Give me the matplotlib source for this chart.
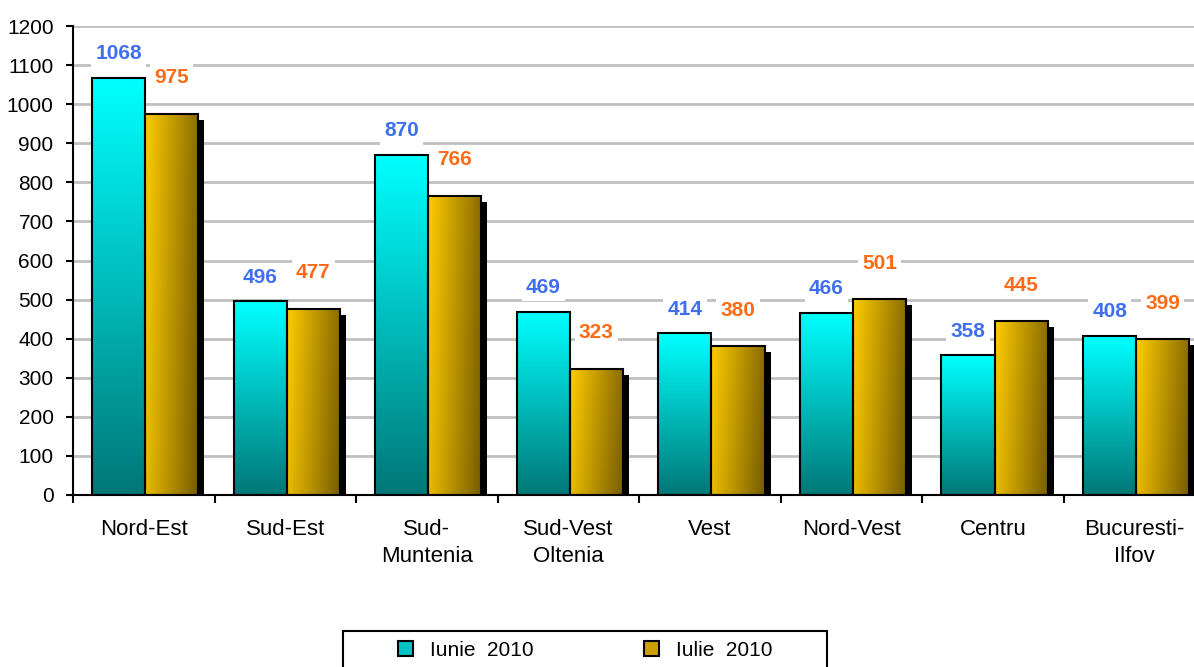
import numpy as np
import matplotlib.pyplot as plt
import matplotlib.patches as mpatches
from matplotlib.transforms import ScaledTranslation
from matplotlib.legend_handler import HandlerPatch

plt.rcParams['font.family'] = ['Liberation Sans', 'DejaVu Sans']

# data
regiuni = ['Nord-Est', 'Sud-Est', 'Sud-\nMuntenia', 'Sud-Vest\nOltenia', 'Vest',
           'Nord-Vest', 'Centru', 'Bucuresti-\nIlfov']
iunie = [1068, 496, 870, 469, 414, 466, 358, 408]
iulie = [975, 477, 766, 323, 380, 501, 445, 399]
serii = ['Iunie  2010', 'Iulie  2010']

fig = plt.figure(figsize=(11.94, 6.67), dpi=100)
ax = fig.add_axes([73 / 1194, 1 - 495 / 667, (1205.5 - 73) / 1194, (495 - 26) / 667])

x = np.arange(len(regiuni))
w = 0.375

# gradients
cyan_grad = np.zeros((64, 2, 3))
top = np.array([0, 255, 255]) / 255
bot = np.array([0, 120, 120]) / 255
for i in range(64):
    t = i / 63
    cyan_grad[i, :, :] = top * (1 - t) + bot * t

gold_grad = np.zeros((32, 64, 3))
left = np.array([255, 204, 0]) / 255
right = np.array([118, 92, 0]) / 255
for i in range(32):
    for j in range(64):
        t = min(1.0, 0.85 * j / 63 + 0.15 * i / 31)
        gold_grad[i, j, :] = left * (1 - t) + right * t

shadow_tr = ax.transData + ScaledTranslation(6 / 100, -6 / 100, fig.dpi_scale_trans)

b1 = ax.bar(x - w / 2 + 0.01, iunie, w, facecolor='none', edgecolor='black', linewidth=1.5, zorder=4)
b2 = ax.bar(x + w / 2 + 0.01, iulie, w, facecolor='none', edgecolor='black', linewidth=1.5, zorder=4)

# shadow only behind the second series
for r in b2:
    sh = mpatches.Rectangle((r.get_x(), r.get_y()), r.get_width(), r.get_height(),
                            facecolor='black', edgecolor='none', transform=shadow_tr, zorder=2)
    ax.add_patch(sh)
for bars, grad in ((b1, cyan_grad), (b2, gold_grad)):
    for r in bars:
        bx, by, bw, bh = r.get_x(), r.get_y(), r.get_width(), r.get_height()
        ax.imshow(grad, extent=(bx, bx + bw, by, by + bh), aspect='auto',
                  interpolation='bilinear', zorder=3)

for r, v in zip(b1, iunie):
    ax.annotate(str(v), (r.get_x() + r.get_width() / 2, v), xytext=(0, 24), textcoords='offset pixels',
                ha='center', va='center', fontsize=15, fontweight='bold', color='#3F6FF0',
                bbox=dict(facecolor='white', edgecolor='none', pad=3), zorder=5)
for r, v in zip(b2, iulie):
    ax.annotate(str(v), (r.get_x() + r.get_width() / 2, v), xytext=(0, 36), textcoords='offset pixels',
                ha='center', va='center', fontsize=15, fontweight='bold', color='#FF6A14',
                bbox=dict(facecolor='white', edgecolor='none', pad=3), zorder=5)

ax.set_xlim(-0.5, len(regiuni) - 0.5)
ax.set_ylim(0, 1200)
ax.set_yticks(range(0, 1201, 100))
ax.set_xticks(x)
ax.set_xticklabels(regiuni, fontsize=16, linespacing=1.4)
ax.set_xticks(np.arange(-0.5, len(regiuni), 1), minor=True)
ax.tick_params(axis='x', which='major', length=0, pad=17)
ax.tick_params(axis='x', which='minor', length=6, width=1.5, direction='out')
ax.tick_params(axis='y', labelsize=15, length=5, width=1.5, direction='out', pad=9)

ax.grid(axis='y', color='#C0C0C0', linewidth=2)
ax.set_axisbelow(True)
for s in ('top', 'right'):
    ax.spines[s].set_visible(False)
for s in ('left', 'bottom'):
    ax.spines[s].set_linewidth(1.5)
    ax.spines[s].set_zorder(6)


class SquareHandler(HandlerPatch):
    def create_artists(self, legend, orig_handle, xdescent, ydescent, width, height, fontsize, trans):
        s = height
        p = mpatches.Rectangle((xdescent + (width - s) / 2, -ydescent + (height - s) / 2), s, s,
                               facecolor=orig_handle.get_facecolor(), edgecolor='black',
                               linewidth=1.5, transform=trans)
        return [p]


h1 = mpatches.Patch(facecolor='#00C4C4', edgecolor='black')
h2 = mpatches.Patch(facecolor='#CCA000', edgecolor='black')
leg = fig.legend([h1, h2], serii, loc='center', ncol=2,
                 bbox_to_anchor=(585.5 / 1194, 1 - 650 / 667),
                 handler_map={mpatches.Patch: SquareHandler()}, fontsize=15,
                 frameon=False, borderpad=0, borderaxespad=0,
                 handlelength=0.72, handleheight=0.7, handletextpad=0.82, columnspacing=5.3)

frame = mpatches.Rectangle((343 / 1194, -0.05), 484 / 1194, 36 / 667 + 0.05,
                           transform=fig.transFigure, fill=False, edgecolor='black', linewidth=1.5)
fig.add_artist(frame)

fig.savefig('out.png', dpi=100)
